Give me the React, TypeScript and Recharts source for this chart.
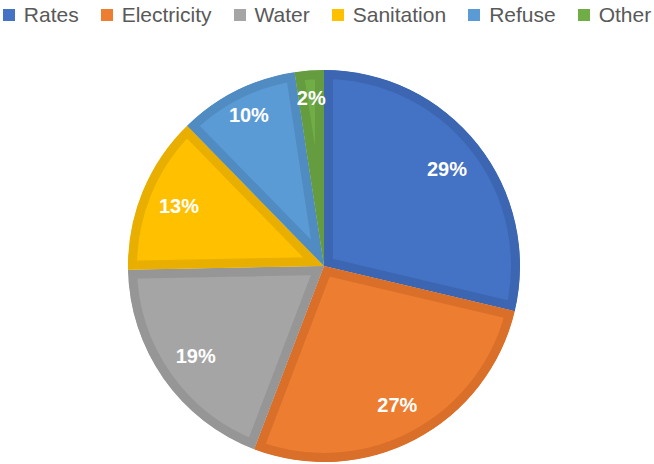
import React from "react";
import { PieChart, Pie, Cell, Sector, Legend } from "recharts";

const categories = ["Rates", "Electricity", "Water", "Sanitation", "Refuse", "Other"];
const shares = [28.7, 27.1, 18.9, 13.0, 9.9, 2.4];
const fills = ["#4472C4", "#ED7D31", "#A5A5A5", "#FFC000", "#5B9BD5", "#70AD47"];
const borders = ["#3C66B2", "#D96F29", "#969696", "#E8AE00", "#508CC2", "#649C3F"];

const data = categories.map((name, i) => ({ name, value: shares[i] }));

const RADIAN = Math.PI / 180;

// slice with its border drawn only on the inside
const BorderedSlice = (props: any) => {
  const id = `slice-clip-${Math.round(props.startAngle * 100)}`;
  return (
    <g>
      <defs>
        <clipPath id={id}>
          <Sector {...props} stroke="none" />
        </clipPath>
      </defs>
      <Sector
        {...props}
        stroke={props.stroke}
        strokeWidth={18}
        clipPath={`url(#${id})`}
      />
    </g>
  );
};

const renderLabel = (props: any) => {
  const { cx, cy, midAngle, outerRadius, percent } = props;
  // narrow slices get their label pushed further out, like Excel's best fit
  const r = outerRadius * (percent < 0.11 ? 0.86 : 0.8);
  const x = cx + r * Math.cos(-midAngle * RADIAN);
  const y = cy + r * Math.sin(-midAngle * RADIAN);
  return (
    <text
      x={x}
      y={y}
      fill="#fff"
      textAnchor="middle"
      dominantBaseline="central"
      fontFamily="'Liberation Sans', Arial, sans-serif"
      fontWeight="bold"
      fontSize={20}
    >
      {`${Math.round(percent * 100)}%`}
    </text>
  );
};

const renderLegend = () => (
  <div
    style={{
      display: "flex",
      justifyContent: "center",
      fontFamily: "'Liberation Sans', Arial, sans-serif",
      fontSize: 21,
      color: "#595959",
      lineHeight: "28px",
    }}
  >
    {categories.map((name, i) => (
      <div
        key={name}
        style={{
          display: "flex",
          alignItems: "center",
          marginRight: i < categories.length - 1 ? 22 : 0,
        }}
      >
        <span
          style={{
            display: "inline-block",
            width: 12,
            height: 12,
            background: fills[i],
            marginRight: 9,
          }}
        />
        <span>{name}</span>
      </div>
    ))}
  </div>
);

export default function App() {
  return (
    <div style={{ position: "absolute", left: 0, top: 0, background: "#fff" }}>
      <PieChart width={654} height={464} margin={{ top: 0, right: 0, bottom: 0, left: 0 }}>
        <Legend
          verticalAlign="top"
          content={renderLegend}
          wrapperStyle={{ top: 1, left: 0, width: 654 }}
        />
        <Pie
          data={data}
          dataKey="value"
          nameKey="name"
          cx={324}
          cy={238}
          outerRadius={196}
          startAngle={90}
          endAngle={-270}
          labelLine={false}
          label={renderLabel}
          shape={BorderedSlice}
          isAnimationActive={false}
        >
          {data.map((d, i) => (
            <Cell key={d.name} fill={fills[i]} stroke={borders[i]} />
          ))}
        </Pie>
      </PieChart>
    </div>
  );
}
